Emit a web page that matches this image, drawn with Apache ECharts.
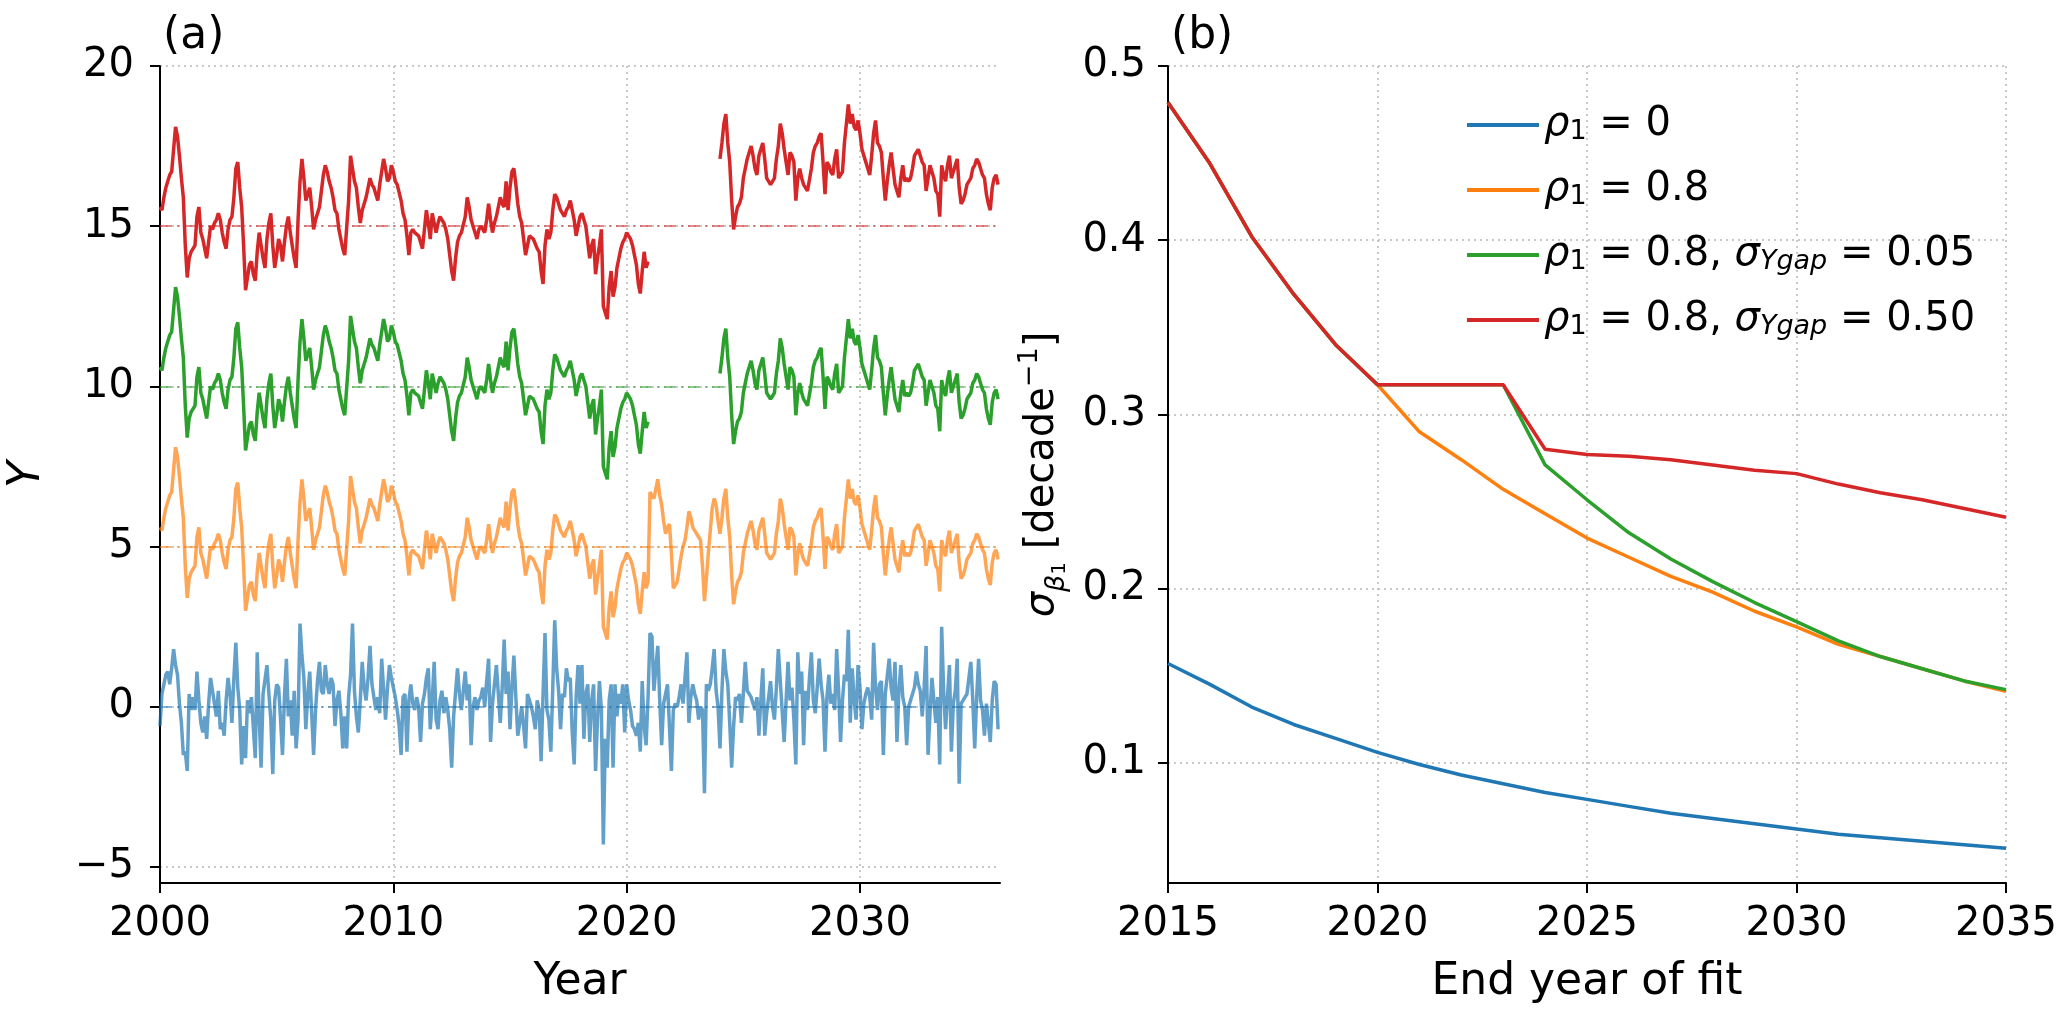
<!DOCTYPE html>
<html>
<head>
<meta charset="utf-8">
<script src="https://cdn.jsdelivr.net/npm/echarts@6/dist/echarts.min.js"></script>
<style>
  html, body { margin: 0; padding: 0; background: #fff; }
  #chart { width: 2072px; height: 1010px; }
</style>
</head>
<body>
<div id="chart"></div>
<script>
// ---- panel (a): monthly series, Jan 2000 .. Dec 2035 ----
const startYear = 2000
const gapStart = 2021
const gapEnd = 2024

// AR(1) anomaly (rho1 = 0.8), one row per year
const ar1Base = [
  0.6, 0.5, 0.9, 1.2, 1.4, 1.6, 1.7, 2.4, 3.1, 2.8, 2.2, 1.5,
  0.9, -0.6, -1.6, -1.0, -0.8, -0.7, -0.6, 0.3, 0.6, -0.2, -0.4, -0.7,
  -1.0, -0.5, 0.0, -0.1, 0.1, 0.2, 0.4, 0.2, -0.2, -0.5, -0.7, -0.1,
  0.2, 0.3, 0.9, 1.8, 2.0, 1.2, 0.6, -0.6, -2.0, -1.6, -1.2, -1.1,
  -1.5, -1.7, -0.8, -0.2, -0.6, -1.0, -1.3, -0.4, 0.1, 0.4, -0.6, -1.3,
  -0.9, -0.4, -0.6, -1.1, -0.5, 0.0, 0.3, -0.2, -0.6, -1.0, -1.3, 0.2,
  1.4, 2.1, 1.5, 0.8, 1.0, 1.2, 0.6, -0.1, 0.2, 0.4, 0.6, 1.1,
  1.6, 1.9, 1.7, 1.4, 1.2, 0.9, 0.5, 0.4, -0.1, -0.4, -0.7, -0.9,
  -0.9, 0.8, 2.2, 1.8, 1.4, 1.2, 0.6, 0.1, 0.5, 0.7, 0.9, 1.2,
  1.5, 1.3, 1.2, 1.0, 0.8, 1.3, 1.7, 2.1, 1.8, 1.4, 1.5, 1.9,
  1.7, 1.4, 1.3, 1.3, 0.8, 0.4, 0.2, -0.3, -0.9, -0.2, -0.1, -0.2,
  -0.2, -0.3, -0.5, -0.7, -0.1, 0.5, 0.1, -0.4, 0.4, 0.1, -0.2, 0.1,
  0.3, 0.2, 0.1, -0.1, -0.4, -0.9, -1.4, -1.7, -1.0, -0.5, -0.3, -0.2,
  -0.2, 0.3, 0.9, 0.6, 0.2, 0.0, -0.2, -0.4, -0.1, 0.0, -0.1, -0.2,
  0.2, 0.7, 0.2, -0.2, 0.1, 0.3, 0.6, 0.9, 0.7, 0.6, 1.4, 0.5,
  1.2, 1.7, 1.8, 1.3, 0.7, 0.3, 0.1, -0.4, -0.9, -0.6, -0.3, -0.3,
  -0.4, -0.4, -0.7, -0.8, -1.4, -1.8, -0.6, -0.1, -0.4, -0.2, 0.5, 1.0,
  0.9, 0.7, 0.5, 0.4, 0.3, 0.5, 0.6, 0.8, 0.8, 0.2, -0.3, 0.0,
  0.3, 0.4, 0.2, 0.0, -0.5, -1.0, -0.6, -0.4, -1.5, -1.0, -0.6, -0.1,
  -2.5, -2.7, -2.9, -1.9, -1.4, -2.2, -1.9, -1.3, -1.0, -0.7, -0.5, -0.4,
  -0.2, -0.3, -0.4, -0.6, -0.9, -1.2, -1.8, -2.1, -1.4, -0.8, -1.3, -1.1,
  1.7, 1.6, 1.5, 1.8, 2.1, 1.6, 1.3, 0.8, 0.4, 0.6, 0.7, -0.2,
  -1.3, -1.2, -1.1, -0.7, -0.3, 0.0, 0.2, 0.6, 1.1, 0.9, 0.6, 0.5,
  0.4, 0.3, 0.2, -0.6, -1.7, -1.0, -0.2, 0.5, 1.2, 1.5, 1.3, 0.8,
  0.4, 0.9, 1.5, 1.8, 0.9, 0.3, -0.9, -1.8, -1.4, -1.1, -1.0, -0.8,
  -0.2, 0.1, 0.4, 0.6, 0.8, 0.5, 0.1, -0.1, 0.5, 0.7, 0.9, 0.4,
  -0.2, -0.3, -0.4, -0.3, -0.2, 0.4, 0.8, 1.5, 1.2, 0.7, 0.3, -0.1,
  0.6, 0.5, 0.3, -0.9, -0.2, 0.1, -0.2, -0.4, -0.5, -0.6, -0.6, 0.1,
  0.6, 0.8, 0.9, 1.1, 1.2, 0.3, -0.7, 0.3, 0.2, 0.0, -0.1, 0.4,
  0.7, -0.2, -0.1, 0.0, 0.9, 1.5, 2.1, 1.5, 1.8, 1.4, 1.3, 1.6,
  1.2, 0.7, 0.5, 0.3, 0.1, -0.1, 0.5, 1.2, 1.6, 0.9, 0.8, 0.6,
  -0.2, -0.9, -0.3, 0.2, 0.6, 0.1, -0.4, -0.6, -0.8, -0.2, 0.2, -0.3,
  -0.2, -0.3, -0.2, 0.1, 0.5, 0.6, 0.7, 0.5, 0.3, 0.2, -0.6, -0.2,
  0.2, 0.0, -0.2, -0.6, -0.7, -1.4, 0.2, -0.1, -0.3, 0.2, 0.5, -0.2,
  0.0, 0.2, 0.4, -0.5, -1.0, -0.9, -0.7, -0.4, -0.3, -0.2, 0.1, 0.2,
  0.4, 0.3, 0.1, -0.1, -0.2, -0.7, -1.0, -1.2, -0.5, -0.2, -0.1, -0.4
]

// white noise (rho1 = 0), one row per year
const whiteNoise = [
  -0.6, 0.4, 0.7, 1.0, 1.1, 0.7, 1.2, 1.8, 1.3, 1.0, 0.1, -0.5,
  -1.5, -1.4, -2.0, 0.4, -0.1, 0.3, -0.1, 1.1, 0.2, -0.5, -0.8, -0.3,
  -1.0, 0.1, 0.9, 0.5, 0.5, -0.3, 0.5, -0.7, -0.5, -0.9, 0.2, 0.9,
  0.4, -0.5, 0.9, 2.0, 0.6, -0.1, -1.8, -0.6, -1.6, 0.2, -0.2, 0.3,
  0.3, -1.6, 1.7, -0.3, -1.9, 0.4, 0.4, 1.3, 0.4, -0.4, -2.1, 0.2,
  0.7, 0.6, -0.4, -1.5, 0.3, 1.5, -0.3, 0.2, -0.9, 0.5, -1.3, -0.4,
  2.6, 1.6, 0.9, -0.7, 0.4, 1.1, -0.2, -1.5, -0.1, 0.8, 1.4, 0.5,
  0.4, 1.3, 0.7, 0.4, 0.9, 0.7, -0.6, 0.2, 0.5, -0.2, -1.3, -0.3,
  -1.3, 0.3, 1.0, 2.6, 0.5, -0.3, -0.8, 0.2, 1.4, 0.6, 0.2, 0.9,
  1.9, 0.7, 0.7, -0.1, 0.3, -0.2, 1.5, 1.5, -0.4, 0.6, 1.3, 0.9,
  0.9, 0.3, -0.1, -0.6, -1.5, 0.3, 0.4, -1.4, 0.2, 0.7, 0.1, -0.1,
  0.3, 0.0, -1.1, 0.1, 0.4, 0.9, 1.2, -0.7, 0.2, 1.4, -0.4, -0.7,
  0.2, 0.5, -0.2, 0.3, -0.1, -0.7, -1.9, -0.3, -0.3, 1.2, 0.4, -0.1,
  0.5, 1.1, 0.2, 0.7, -1.2, 0.0, 0.3, -0.1, 0.2, 0.3, 0.6, 0.0,
  0.8, 1.5, -1.1, 0.1, 0.7, 1.3, 0.4, -0.5, 0.6, 2.1, 0.4, 1.1,
  -0.7, 0.6, 1.6, 0.3, -0.9, -0.5, 0.0, -0.6, -1.3, 0.4, 0.2, 0.0,
  -0.3, -0.7, 0.2, -0.1, -1.7, 0.4, 2.3, -0.1, -0.4, -1.4, 0.6, 2.7,
  1.2, 0.5, -0.7, 0.4, 0.3, 1.2, 0.8, 0.9, -0.8, -1.8, 0.3, 1.3,
  0.1, 1.3, -1.0, 0.4, 0.7, -1.1, 0.2, 0.7, -2.0, -0.4, 0.8, -0.1,
  -4.3, -1.0, -1.9, 0.2, 0.7, -1.9, 0.7, -0.3, 0.4, 0.1, 0.7, -0.8,
  0.7, 0.2, -0.1, -0.6, -0.7, -0.9, -0.5, -1.4, 0.8, -0.6, -1.2, 0.3,
  2.3, 2.2, 0.5, 1.2, 1.9, 0.2, -1.2, 0.1, 0.4, 0.7, -0.6, -2.0,
  -0.1, 0.1, 0.0, 0.3, 0.7, 0.1, 0.9, 1.7, -0.5, 0.3, 0.7, 0.4,
  0.2, -0.4, 0.0, -0.1, -2.7, 0.7, 0.5, 0.7, 1.2, 1.8, 0.5, 0.0,
  -1.3, 0.5, 1.8, 1.1, 0.7, -0.5, -1.9, -0.6, 0.3, 0.2, 0.4, -0.5,
  0.4, 1.4, 0.5, 0.5, 0.3, 0.3, -0.1, 0.3, -0.9, 0.2, 1.2, -0.9,
  -0.2, 0.3, 0.8, 0.0, -0.4, 0.6, 1.8, 0.8, 0.8, -1.1, 0.2, 1.4,
  0.2, 0.6, -0.4, -1.8, 1.7, 0.4, 1.1, -1.2, 0.5, -0.1, 0.9, 1.7,
  0.2, -0.2, 0.6, 1.5, 0.7, 0.2, -1.4, 0.3, 1.0, 0.1, 0.4, -0.1,
  1.8, 0.5, -1.1, 0.2, 1.0, 0.8, 2.4, -0.5, 1.2, 0.2, -0.4, 1.3,
  0.6, -0.7, 0.1, 0.4, 0.6, 0.3, -0.4, 2.0, 0.6, -0.1, 0.7, 0.8,
  -1.5, 0.4, 0.4, 1.5, 0.6, 0.2, 1.4, -1.1, 0.5, 1.3, 0.3, 0.0,
  -1.2, 0.0, 0.2, 0.4, 0.6, 1.1, 0.7, 0.5, -0.3, 0.6, 1.9, -1.5,
  -0.2, 0.9, 0.2, -0.5, 0.3, -1.8, 2.5, 0.5, -0.7, 0.3, 1.3, -1.4,
  0.1, 0.5, 1.5, -2.4, 0.1, 0.1, 0.3, 0.4, 0.9, 1.4, 0.2, -1.3,
  0.3, 1.5, 0.2, -0.1, -0.9, 0.1, 0.1, -1.1, 0.2, 0.8, 0.7, -0.7
]

// vertical offsets of the four curves, and the level jump of the red one after the gap
const offsets = [0, 5, 10, 15]
const redGapShift = 1.7

// ---- panel (b): uncertainty of the trend vs end year ----
const endYears = [2015, 2016, 2017, 2018, 2019, 2020, 2021, 2022, 2023, 2024, 2025,
  2026, 2027, 2028, 2029, 2030, 2031, 2032, 2033, 2034, 2035]
const sigmaRho0 = [0.157, 0.145, 0.132, 0.122, 0.114, 0.106, 0.099, 0.093, 0.088, 0.083, 0.079,
  0.075, 0.071, 0.068, 0.065, 0.062, 0.059, 0.057, 0.055, 0.053, 0.051]
const sigmaRho08 = [0.479, 0.444, 0.402, 0.369, 0.340, 0.317, 0.290, 0.274, 0.257, 0.243, 0.229,
  0.218, 0.207, 0.198, 0.187, 0.178, 0.168, 0.161, 0.154, 0.147, 0.141]
const sigmaGap005 = [0.479, 0.444, 0.402, 0.369, 0.340, 0.317, 0.317, 0.317, 0.317, 0.271, 0.251,
  0.232, 0.217, 0.204, 0.192, 0.181, 0.170, 0.161, 0.154, 0.147, 0.142]
const sigmaGap050 = [0.479, 0.444, 0.402, 0.369, 0.340, 0.317, 0.317, 0.317, 0.317, 0.280, 0.277,
  0.276, 0.274, 0.271, 0.268, 0.266, 0.260, 0.255, 0.251, 0.246, 0.241]

const colors = ['#1f77b4', '#ff7f0e', '#2ca02c', '#d62728']
const FONT = 'DejaVu Sans'

const months = ar1Base.map((v, i) => startYear + i / 12)
const inGap = t => t >= gapStart && t < gapEnd

const blueData = months.map((t, i) => [t, whiteNoise[i] + offsets[0]])
const orangeData = months.map((t, i) => [t, ar1Base[i] + offsets[1]])
const greenData = months.map((t, i) => [t, inGap(t) ? '-' : ar1Base[i] + offsets[2]])
const redData = months.map((t, i) => {
  if (inGap(t)) return [t, '-']
  return [t, ar1Base[i] + offsets[3] + (t >= gapEnd ? redGapShift : 0)]
})

const rich = {
  g: { fontFamily: FONT, fontStyle: 'italic', fontSize: 40, color: '#000' },
  s: { fontFamily: FONT, fontSize: 27, color: '#000', verticalAlign: 'bottom', lineHeight: 28 },
  si: { fontFamily: FONT, fontStyle: 'italic', fontSize: 27, color: '#000', verticalAlign: 'bottom', lineHeight: 28 },
  ss: { fontFamily: FONT, fontSize: 20, color: '#000', verticalAlign: 'bottom', lineHeight: 22 },
  sup: { fontFamily: FONT, fontSize: 27, color: '#000', verticalAlign: 'top', lineHeight: 54 },
  t: { fontFamily: FONT, fontSize: 40, color: '#000' }
}

const legendNames = ['rho0', 'rho08', 'gap005', 'gap050']
const legendLabels = {
  rho0: '{g|ρ}{s|1}{t| = 0}',
  rho08: '{g|ρ}{s|1}{t| = 0.8}',
  gap005: '{g|ρ}{s|1}{t| = 0.8, }{g|σ}{si|Ygap}{t| = 0.05}',
  gap050: '{g|ρ}{s|1}{t| = 0.8, }{g|σ}{si|Ygap}{t| = 0.50}'
}

function axisBase() {
  return {
    axisLine: { show: true, onZero: false, lineStyle: { color: '#000', width: 2 } },
    axisTick: { show: true, inside: false, length: 10, lineStyle: { color: '#000', width: 2 } },
    axisLabel: { color: '#000', fontSize: 40, fontFamily: FONT, margin: 20 },
    splitLine: { show: true, lineStyle: { color: '#b8b8b8', width: 1.5, type: [2, 4] } }
  }
}

function refLine(value, color) {
  return {
    silent: true,
    symbol: 'none',
    label: { show: false },
    lineStyle: { color: color, width: 2, opacity: 0.55, type: [12, 5, 2, 5] },
    data: [{ yAxis: value }]
  }
}

const chart = echarts.init(document.getElementById('chart'))

const xa = axisBase()
const xb = axisBase()
const ya = axisBase()
const yb = axisBase()

chart.setOption({
  animation: false,
  backgroundColor: '#fff',
  title: [
    { text: '(a)', left: 158, top: 10, textStyle: { fontFamily: FONT, fontSize: 44, fontWeight: 'normal', color: '#000' } },
    { text: '(b)', left: 1166, top: 10, textStyle: { fontFamily: FONT, fontSize: 44, fontWeight: 'normal', color: '#000' } }
  ],
  grid: [
    { left: 160, right: 1072, top: 66, bottom: 117 },
    { left: 1168, right: 66, top: 66, bottom: 117 }
  ],
  legend: {
    orient: 'vertical',
    left: 1462,
    top: 100,
    icon: 'rect',
    itemWidth: 72,
    itemHeight: 4,
    itemGap: 25,
    data: legendNames,
    formatter: name => legendLabels[name],
    textStyle: { fontFamily: FONT, fontSize: 40, color: '#000', rich: rich }
  },
  xAxis: [
    Object.assign(xa, {
      type: 'value', gridIndex: 0, min: 2000, max: 2036, interval: 10,
      name: 'Year', nameLocation: 'middle', nameGap: 78,
      nameTextStyle: { fontFamily: FONT, fontSize: 44, color: '#000' },
      axisLabel: Object.assign(xa.axisLabel, { margin: 22, showMaxLabel: false, formatter: v => String(v) }),
      splitLine: Object.assign(xa.splitLine, { showMaxLine: false })
    }),
    Object.assign(xb, {
      type: 'value', gridIndex: 1, min: 2015, max: 2035, interval: 5,
      name: 'End year of fit', nameLocation: 'middle', nameGap: 78,
      nameTextStyle: { fontFamily: FONT, fontSize: 44, color: '#000' },
      axisLabel: Object.assign(xb.axisLabel, { margin: 22, formatter: v => String(v) })
    })
  ],
  yAxis: [
    Object.assign(ya, {
      type: 'value', gridIndex: 0, min: -5.5, max: 20,
      name: 'Y', nameLocation: 'middle', nameGap: 110, nameRotate: 90,
      nameTextStyle: { fontFamily: FONT, fontSize: 44, fontStyle: 'italic', color: '#000' },
      axisLabel: Object.assign(ya.axisLabel, { margin: 26, showMinLabel: false, formatter: v => (v < 0 ? '\u2212' + Math.abs(v) : String(v)) }),
      splitLine: Object.assign(ya.splitLine, { showMinLine: false })
    }),
    Object.assign(yb, {
      type: 'value', gridIndex: 1, min: 0.031, max: 0.5,
      name: '{g|σ}{sb|β}{ss|1}{t| [decade}{sup|−1}{t|]}', nameLocation: 'middle', nameGap: 98, nameRotate: 90,
      nameTextStyle: {
        fontFamily: FONT, fontSize: 40, color: '#000',
        rich: Object.assign({}, rich, {
          sb: { fontFamily: FONT, fontStyle: 'italic', fontSize: 27, color: '#000', verticalAlign: 'bottom', lineHeight: 30 }
        })
      },
      axisLabel: Object.assign(yb.axisLabel, { margin: 22, showMinLabel: false, formatter: v => v.toFixed(1) }),
      splitLine: Object.assign(yb.splitLine, { showMinLine: false })
    })
  ],
  series: [
    {
      name: 'a0', type: 'line', xAxisIndex: 0, yAxisIndex: 0, data: blueData,
      showSymbol: false, symbol: 'none', lineStyle: { color: colors[0], width: 3.5, opacity: 0.7 },
      markLine: refLine(offsets[0], colors[0])
    },
    {
      name: 'a1', type: 'line', xAxisIndex: 0, yAxisIndex: 0, data: orangeData,
      showSymbol: false, symbol: 'none', lineStyle: { color: colors[1], width: 3.5, opacity: 0.7 },
      markLine: refLine(offsets[1], colors[1])
    },
    {
      name: 'a2', type: 'line', xAxisIndex: 0, yAxisIndex: 0, data: greenData,
      showSymbol: false, symbol: 'none', connectNulls: false, lineStyle: { color: colors[2], width: 3.5 },
      markLine: refLine(offsets[2], colors[2])
    },
    {
      name: 'a3', type: 'line', xAxisIndex: 0, yAxisIndex: 0, data: redData,
      showSymbol: false, symbol: 'none', connectNulls: false, lineStyle: { color: colors[3], width: 3.5 },
      markLine: refLine(offsets[3], colors[3])
    },
    {
      name: 'rho0', type: 'line', xAxisIndex: 1, yAxisIndex: 1, color: colors[0],
      data: endYears.map((y, i) => [y, sigmaRho0[i]]),
      showSymbol: false, symbol: 'none', lineStyle: { color: colors[0], width: 3.5 }
    },
    {
      name: 'rho08', type: 'line', xAxisIndex: 1, yAxisIndex: 1, color: colors[1],
      data: endYears.map((y, i) => [y, sigmaRho08[i]]),
      showSymbol: false, symbol: 'none', lineStyle: { color: colors[1], width: 3.5 }
    },
    {
      name: 'gap005', type: 'line', xAxisIndex: 1, yAxisIndex: 1, color: colors[2],
      data: endYears.map((y, i) => [y, sigmaGap005[i]]),
      showSymbol: false, symbol: 'none', lineStyle: { color: colors[2], width: 3.5 }
    },
    {
      name: 'gap050', type: 'line', xAxisIndex: 1, yAxisIndex: 1, color: colors[3],
      data: endYears.map((y, i) => [y, sigmaGap050[i]]),
      showSymbol: false, symbol: 'none', lineStyle: { color: colors[3], width: 3.5 }
    }
  ]
})
</script>
</body>
</html>
